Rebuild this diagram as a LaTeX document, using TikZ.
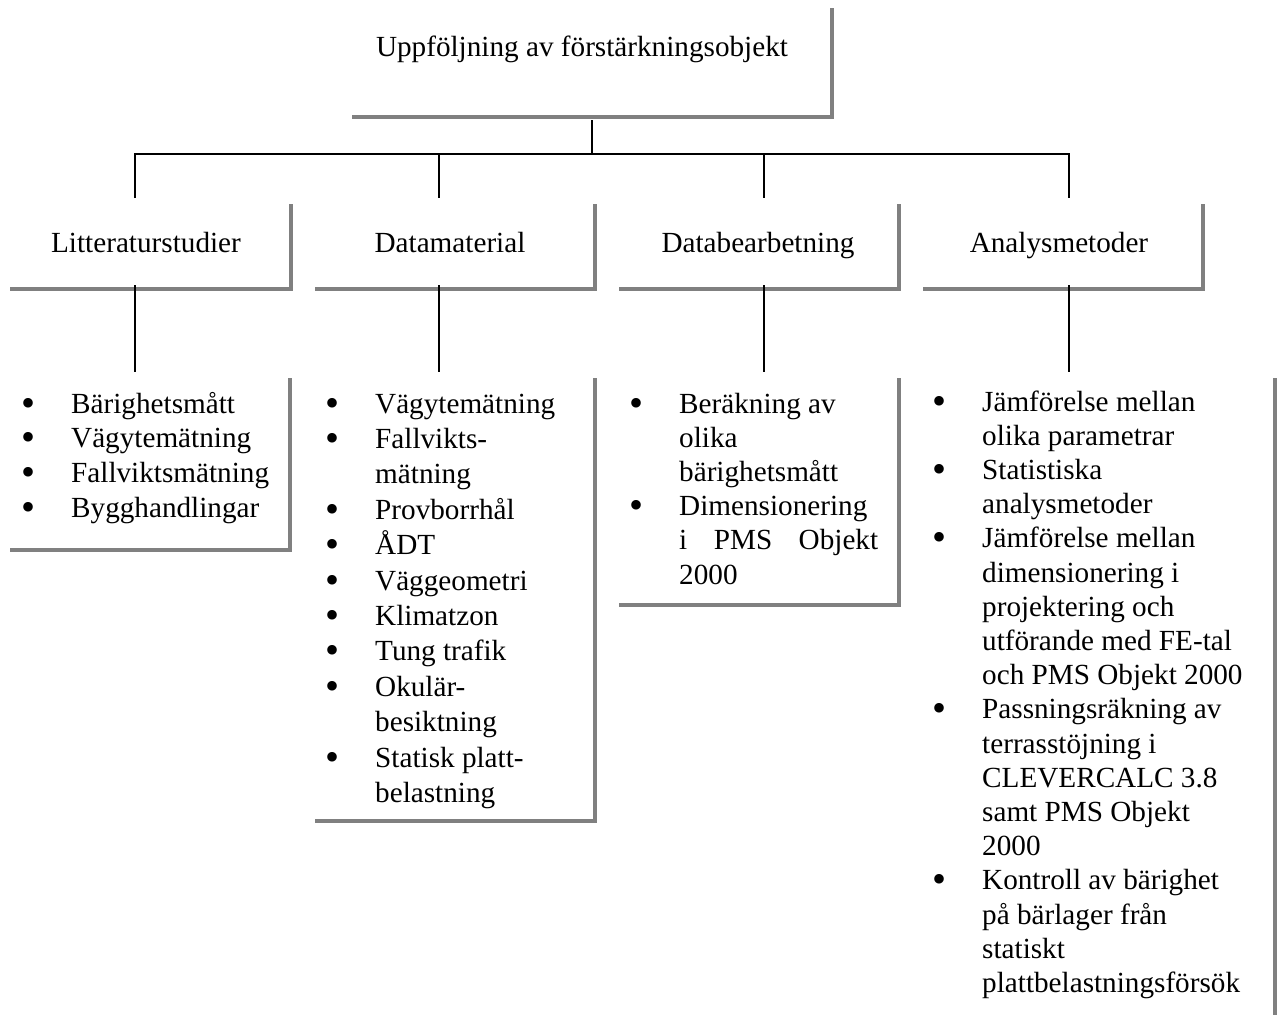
\documentclass[tikz,border=0pt]{standalone}
\usepackage{fontspec}
\setmainfont{Liberation Serif}
\usepackage{array}
\definecolor{shadowgray}{RGB}{128,128,128}
\tikzset{
  frame/.style={rectangle, inner sep=0pt, outer sep=0pt, anchor=north west},
  shadowline/.style={draw=shadowgray, line width=4.5pt, line join=miter},
  conn/.style={draw=black, line width=1.6pt},
  lbl/.style={font=\fontsize{29.2}{35.4}\selectfont, inner sep=0pt, anchor=base},
  lst/.style={font=\fontsize{29.2}{#1}\selectfont, inner sep=0pt, anchor=base west},
}
\newcommand{\blt}{\makebox[14pt][c]{\smash{\raisebox{-3pt}{\fontsize{40}{40}\selectfont\textbullet}}}}
\newenvironment{blist}{\begin{tabular}[t]{@{}c@{\hspace{36pt}}l@{}}}{\end{tabular}}
\begin{document}
\begin{tikzpicture}[x=1pt,y=-1pt]
\useasboundingbox[fill=white] (0,0) rectangle (1278,1015);

% frames
\node[frame, minimum width=480pt, minimum height=109pt] (top) at (352,8) {};
\node[frame, minimum width=281pt, minimum height=85pt] (lit) at (10,204) {};
\node[frame, minimum width=280pt, minimum height=85pt] (dat) at (315,204) {};
\node[frame, minimum width=280pt, minimum height=85pt] (db) at (619,204) {};
\node[frame, minimum width=280pt, minimum height=85pt] (an) at (923,204) {};
\node[frame, minimum width=280pt, minimum height=172pt] (litl) at (10,378) {};
\node[frame, minimum width=280pt, minimum height=443pt] (datl) at (315,378) {};
\node[frame, minimum width=280pt, minimum height=227pt] (dbl) at (619,378) {};
\node[frame, minimum width=352pt, minimum height=640pt] (anl) at (923,378) {};

% shadows
\foreach \b in {top,lit,dat,db,an,litl,datl,dbl}{
  \draw[shadowline] (\b.south west) -- (\b.south east) -- (\b.north east);
}
\draw[shadowline] (anl.north east) -- (anl.south east);

% labels
\node[lbl] (ttop) at (582,56) {Uppföljning av förstärkningsobjekt};
\node[lbl] (tlit) at (146,252) {Litteraturstudier};
\node[lbl] (tdat) at (450,252) {Datamaterial};
\node[lbl] (tdb) at (758,252) {Databearbetning};
\node[lbl] (tan) at (1059,252) {Analysmetoder};

% lists
\node[lst=34.7] (llit) at (21,413) {\begin{blist}
\blt & Bärighetsmått\\
\blt & Vägytemätning\\
\blt & Fallviktsmätning\\
\blt & Bygghandlingar
\end{blist}};
\node[lst=35.4] (ldat) at (325,413) {\begin{blist}
\blt & Vägytemätning\\
\blt & Fallvikts-\\
 & mätning\\
\blt & Provborrhål\\
\blt & ÅDT\\
\blt & Väggeometri\\
\blt & Klimatzon\\
\blt & Tung trafik\\
\blt & Okulär-\\
 & besiktning\\
\blt & Statisk platt-\\
 & belastning
\end{blist}};
\node[lst=34.2] (ldb) at (629,413) {\begin{blist}
\blt & Beräkning av\\
 & olika\\
 & bärighetsmått\\
\blt & Dimensionering\\
 & \hbox to 199pt{i\hfill PMS\hfill Objekt}\\
 & 2000
\end{blist}};
\node[lst=34.2] (lan) at (932,411) {\begin{blist}
\blt & Jämförelse mellan\\
 & olika parametrar\\
\blt & Statistiska\\
 & analysmetoder\\
\blt & Jämförelse mellan\\
 & dimensionering i\\
 & projektering och\\
 & utförande med FE-tal\\
 & och PMS Objekt 2000\\
\blt & Passningsräkning av\\
 & terrasstöjning i\\
 & CLEVERCALC 3.8\\
 & samt PMS Objekt\\
 & 2000\\
\blt & Kontroll av bärighet\\
 & på bärlager från\\
 & statiskt\\
 & plattbelastningsförsök
\end{blist}};

% connectors
\coordinate (j0) at (592,154);
\coordinate (d1) at (135,154);
\coordinate (d2) at (439,154);
\coordinate (d3) at (764,154);
\coordinate (d4) at (1069,154);
\draw[conn] ([yshift=-3pt]top.south) -- (j0);
\draw[conn] ([yshift=6pt]d1 |- lit.north) -- (d1) -- (d4) -- ([yshift=6pt]d4 |- an.north);
\draw[conn] (d2) -- ([yshift=6pt]d2 |- dat.north);
\draw[conn] (d3) -- ([yshift=6pt]d3 |- db.north);
\draw[conn] ([yshift=4pt]d1 |- lit.south) -- ([yshift=6pt]d1 |- litl.north);
\draw[conn] ([yshift=4pt]d2 |- dat.south) -- ([yshift=6pt]d2 |- datl.north);
\draw[conn] ([yshift=4pt]d3 |- db.south) -- ([yshift=6pt]d3 |- dbl.north);
\draw[conn] ([yshift=4pt]d4 |- an.south) -- ([yshift=6pt]d4 |- anl.north);
\end{tikzpicture}
\end{document}
